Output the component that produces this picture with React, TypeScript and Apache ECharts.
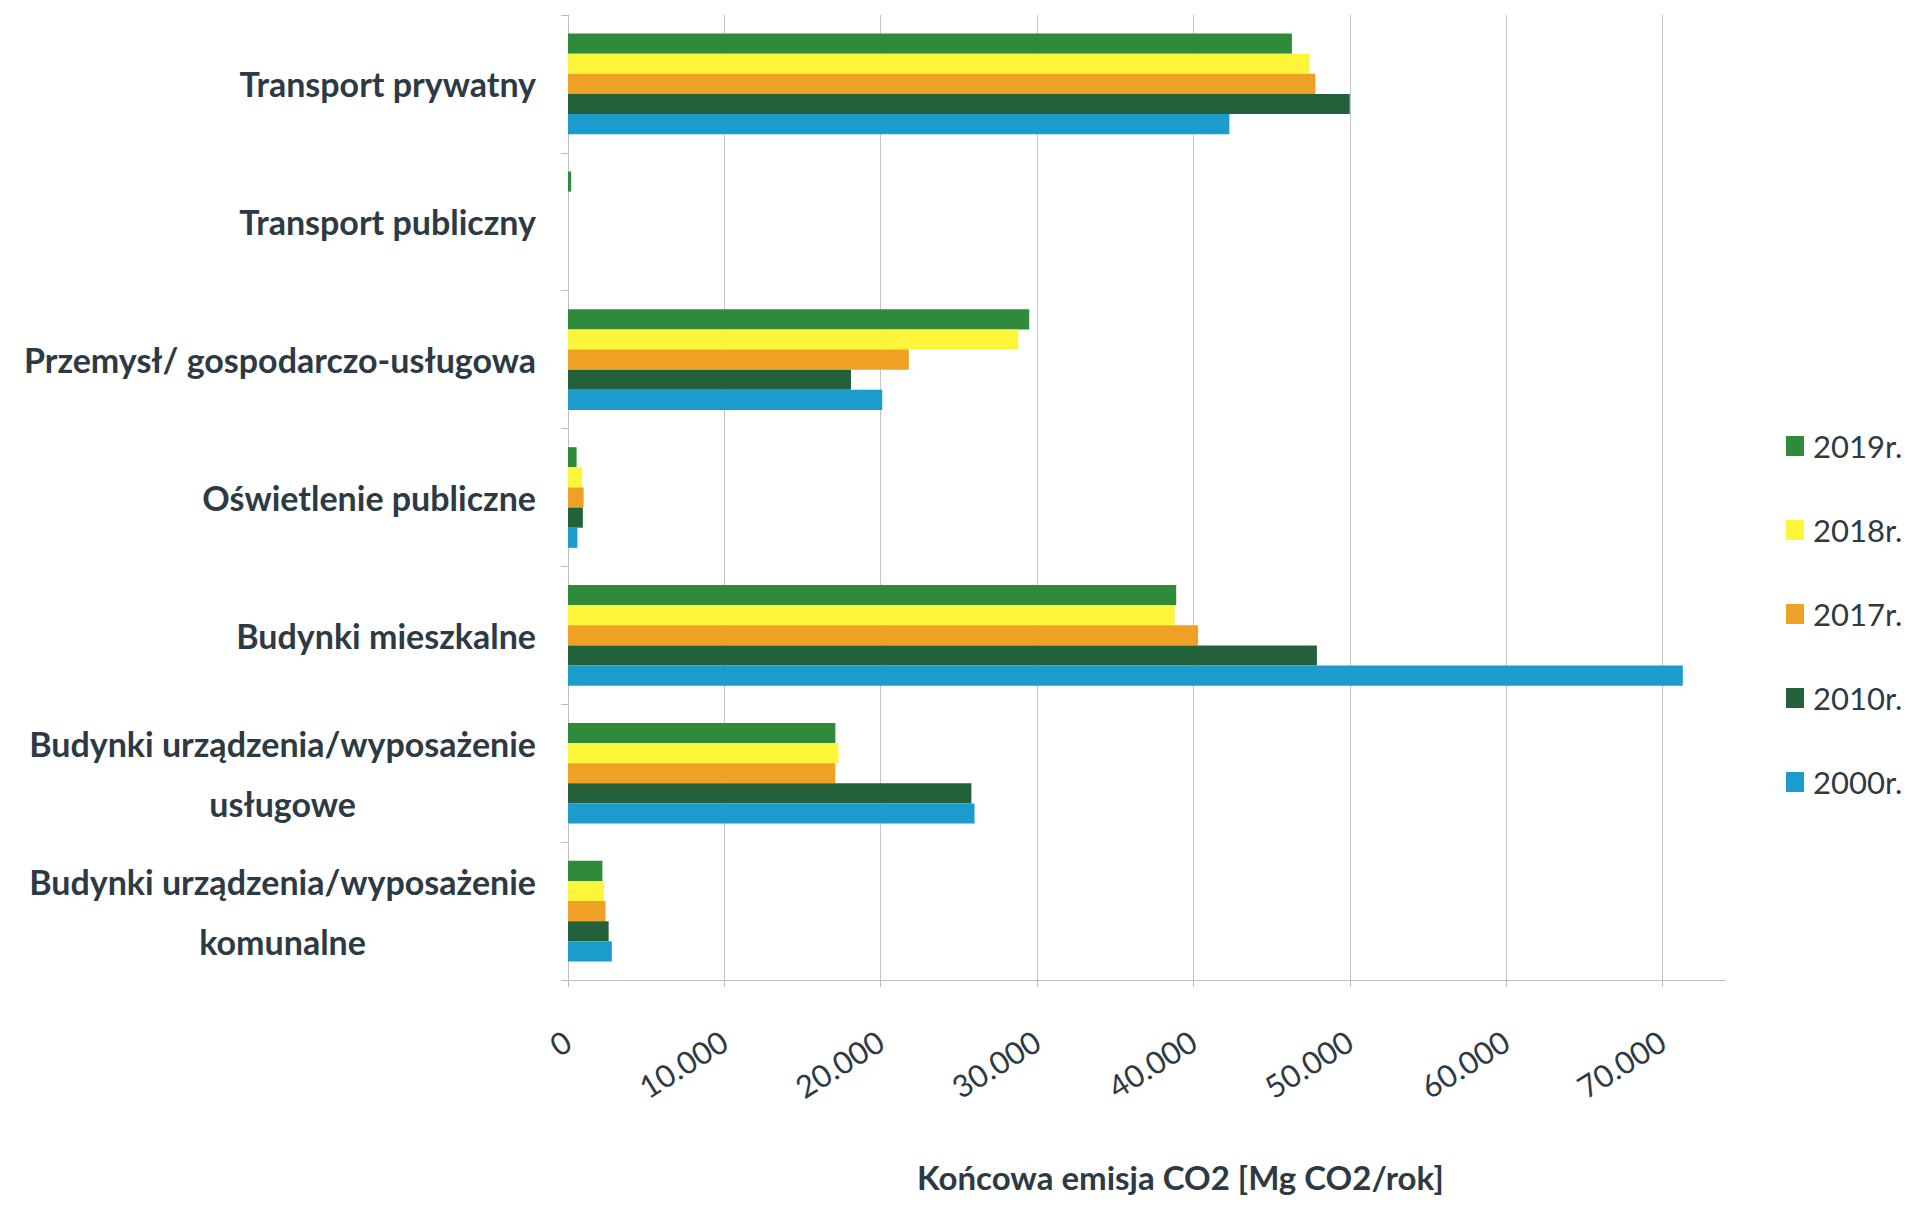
import React, { useEffect, useRef } from "react";
import * as echarts from "echarts";

const categories = [
  "Transport prywatny",
  "Transport publiczny",
  "Przemysł/ gospodarczo-usługowa",
  "Oświetlenie publiczne",
  "Budynki mieszkalne",
  "Budynki urządzenia/wyposażenie\nusługowe",
  "Budynki urządzenia/wyposażenie\nkomunalne",
];

const seriesNames = ["2019r.", "2018r.", "2017r.", "2010r.", "2000r."];

const values2019 = [46300, 200, 29500, 550, 38900, 17100, 2200];
const values2018 = [47400, 0, 28800, 900, 38800, 17300, 2300];
const values2017 = [47800, 0, 21800, 1000, 40300, 17100, 2400];
const values2010 = [50000, 0, 18100, 950, 47900, 25800, 2600];
const values2000 = [42300, 0, 20100, 600, 71300, 26000, 2800];

const seriesColors = ["#2f8a3b", "#fdf53a", "#eea125", "#23613a", "#1b9ccc"];

const xTickLabels = ["0", "10.000", "20.000", "30.000", "40.000", "50.000", "60.000", "70.000"];

const xAxisTitle = "Końcowa emisja CO2 [Mg CO2/rok]";

const TEXT_COLOR = "#2d3a44";
const FONT = "Lato, 'Open Sans', sans-serif";

export default function App() {
  const ref = useRef<HTMLDivElement>(null);

  useEffect(() => {
    document.body.style.margin = "0";
    const chart = echarts.init(ref.current!, undefined, { renderer: "svg" });
    const allValues = [values2019, values2018, values2017, values2010, values2000];
    chart.setOption({
      animation: false,
      backgroundColor: "#ffffff",
      grid: { left: 568, right: 182, top: 15, bottom: 230, containLabel: false, outerBoundsMode: "none" },
      legend: {
        orient: "vertical",
        left: 1781,
        top: 423,
        itemWidth: 18,
        itemHeight: 20,
        itemGap: 48,
        icon: "rect",
        data: seriesNames,
        textStyle: { fontFamily: FONT, fontSize: 31, lineHeight: 36, color: TEXT_COLOR, padding: [0, 0, 0, 4] },
      },
      xAxis: {
        type: "value",
        min: 0,
        max: 74000,
        interval: 10000,
        name: xAxisTitle,
        nameLocation: "middle",
        nameGap: 180,
        nameTextStyle: {
          fontFamily: FONT,
          fontWeight: "bold",
          fontSize: 33,
          color: TEXT_COLOR,
          padding: [0, 0, 0, 68],
        },
        axisLine: { show: true, lineStyle: { color: "#bdbdbd", width: 1 } },
        axisTick: { show: true, length: 7, lineStyle: { color: "#bdbdbd" } },
        splitLine: { show: true, showMaxLine: false, lineStyle: { color: "#c4c4c4", width: 1 } },
        axisLabel: {
          rotate: 32,
          margin: 58,
          showMaxLabel: false,
          fontFamily: FONT,
          fontSize: 31,
          color: TEXT_COLOR,
          formatter: (v: number) => {
            const i = v / 10000;
            return Number.isInteger(i) && xTickLabels[i] !== undefined ? xTickLabels[i] : "";
          },
        },
      },
      yAxis: {
        type: "category",
        data: categories,
        inverse: true,
        axisLine: { show: true, lineStyle: { color: "#bdbdbd", width: 1 } },
        axisTick: { show: true, length: 7, lineStyle: { color: "#bdbdbd" } },
        splitLine: { show: false },
        axisLabel: {
          margin: 32,
          align: "right",
          formatter: (v: string) =>
            v
              .split("\n")
              .map((s) => `{c|${s}}`)
              .join("\n"),
          rich: {
            c: {
              align: "center",
              fontFamily: FONT,
              fontWeight: "bold",
              fontSize: 34,
              lineHeight: 60,
              color: TEXT_COLOR,
            },
          },
        },
      },
      series: seriesNames.map((name, i) => ({
        name,
        type: "bar",
        data: allValues[i],
        barGap: "0%",
        barCategoryGap: "27%",
        itemStyle: { color: seriesColors[i] },
      })),
    });
    return () => chart.dispose();
  }, []);

  return <div ref={ref} style={{ position: "absolute", left: 0, top: 0, width: 1907, height: 1210 }} />;
}
